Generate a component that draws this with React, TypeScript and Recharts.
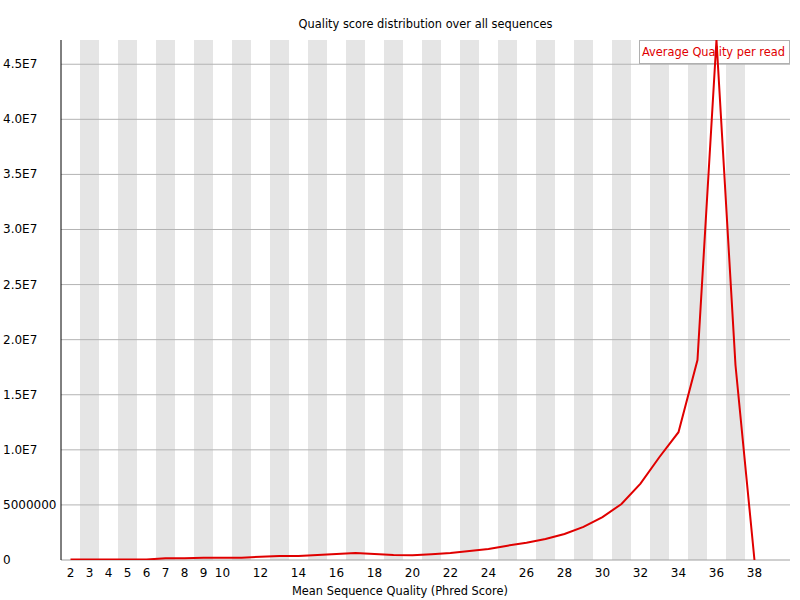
import { LineChart, Line, XAxis, YAxis, ReferenceArea, ReferenceLine } from 'recharts';

const qualities = [2, 3, 4, 5, 6, 7, 8, 9, 10, 11, 12, 13, 14, 15, 16, 17, 18, 19, 20, 21, 22, 23, 24, 25, 26, 27, 28, 29, 30, 31, 32, 33, 34, 35, 36, 37, 38];
// read counts, millions
const counts = [0.05, 0.05, 0.05, 0.05, 0.05, 0.15, 0.15, 0.2, 0.2, 0.2, 0.3, 0.37, 0.37, 0.45, 0.55, 0.63, 0.55, 0.45, 0.43, 0.52, 0.63, 0.82, 1.0, 1.3, 1.57, 1.9, 2.36, 3.0, 3.9, 5.08, 6.93, 9.35, 11.6, 18.15, 47.2, 17.7, 0];
const xTicks = [2, 3, 4, 5, 6, 7, 8, 9, 10, 12, 14, 16, 18, 20, 22, 24, 26, 28, 30, 32, 34, 36, 38];
const yTicks = [0, 5e6, 1e7, 1.5e7, 2e7, 2.5e7, 3e7, 3.5e7, 4e7, 4.5e7];
const stripes = [3, 5, 7, 9, 11, 13, 15, 17, 19, 21, 23, 25, 27, 29, 31, 33, 35, 37];

const data = qualities.map((q, i) => ({ q, count: counts[i] * 1e6 }));

const FONT = '"DejaVu Sans", sans-serif';
const X_DOMAIN: [number, number] = [1.5, 39.87];
const Y_DOMAIN: [number, number] = [0, 47.2e6];
const MARGIN = { top: 40, right: 10, bottom: 0, left: 0 };

function fmtY(v: number) {
  if (v === 0) return '0';
  if (v === 5e6) return '5000000';
  return (v / 1e7).toFixed(1) + 'E7';
}

function YTick(props: any) {
  const { y, payload } = props;
  return (
    <text x={3} y={y} dy={4} textAnchor="start" fontSize={12} fontFamily={FONT} fill="#000">
      {fmtY(payload.value)}
    </text>
  );
}

const layer = { position: 'absolute' as const, left: 0, top: 0 };

export default function App() {
  return (
    <div style={{ position: 'absolute', left: 0, top: 0, width: 800, height: 600, background: '#fff' }}>
      {/* background: axes, stripes, grid */}
      <div style={layer}>
        <LineChart width={800} height={600} data={data} margin={MARGIN}>
          <XAxis
            dataKey="q"
            type="number"
            domain={X_DOMAIN}
            allowDataOverflow
            ticks={xTicks}
            interval={0}
            tickLine={false}
            axisLine={{ stroke: '#a0a0a0' }}
            tick={{ fontSize: 12, fontFamily: FONT, fill: '#000' }}
            height={40}
          />
          <YAxis
            dataKey="count"
            type="number"
            domain={Y_DOMAIN}
            allowDataOverflow
            ticks={yTicks}
            width={61}
            tickLine={false}
            axisLine={{ stroke: '#000' }}
            tick={<YTick />}
          />
          {stripes.map((s) => (
            <ReferenceArea key={s} x1={s - 0.5} x2={s + 0.5} fill="#e5e5e5" fillOpacity={1} stroke="none" ifOverflow="hidden" />
          ))}
          {yTicks.slice(1).map((t) => (
            <ReferenceLine key={t} y={t} stroke="#b4b4b4" strokeWidth={1} />
          ))}
          <Line dataKey="count" stroke="none" dot={false} isAnimationActive={false} />
        </LineChart>
      </div>
      <div
        style={{
          position: 'absolute',
          top: 17,
          left: 61,
          width: 729,
          textAlign: 'center',
          fontFamily: FONT,
          fontSize: 11.4,
        }}
      >
        Quality score distribution over all sequences
      </div>
      <div
        style={{
          position: 'absolute',
          top: 584,
          left: 0,
          width: 800,
          textAlign: 'center',
          fontFamily: FONT,
          fontSize: 11.4,
        }}
      >
        Mean Sequence Quality (Phred Score)
      </div>
      <div
        style={{
          position: 'absolute',
          top: 40,
          right: 10,
          width: 147,
          height: 22,
          border: '1px solid #b0b0b0',
          background: '#fff',
          color: '#e00000',
          fontFamily: FONT,
          fontSize: 11.4,
          lineHeight: '22px',
          paddingLeft: 2,
          boxSizing: 'content-box',
          whiteSpace: 'nowrap',
        }}
      >
        Average Quality per read
      </div>
      {/* foreground: the series, drawn over the legend box */}
      <div style={layer}>
        <LineChart width={800} height={600} data={data} margin={MARGIN}>
          <XAxis dataKey="q" type="number" domain={X_DOMAIN} allowDataOverflow tick={false} tickLine={false} axisLine={false} height={40} />
          <YAxis dataKey="count" type="number" domain={Y_DOMAIN} allowDataOverflow tick={false} tickLine={false} axisLine={false} width={61} />
          <Line
            dataKey="count"
            type="linear"
            stroke="#e00000"
            strokeWidth={2}
            dot={false}
            isAnimationActive={false}
          />
        </LineChart>
      </div>
    </div>
  );
}
